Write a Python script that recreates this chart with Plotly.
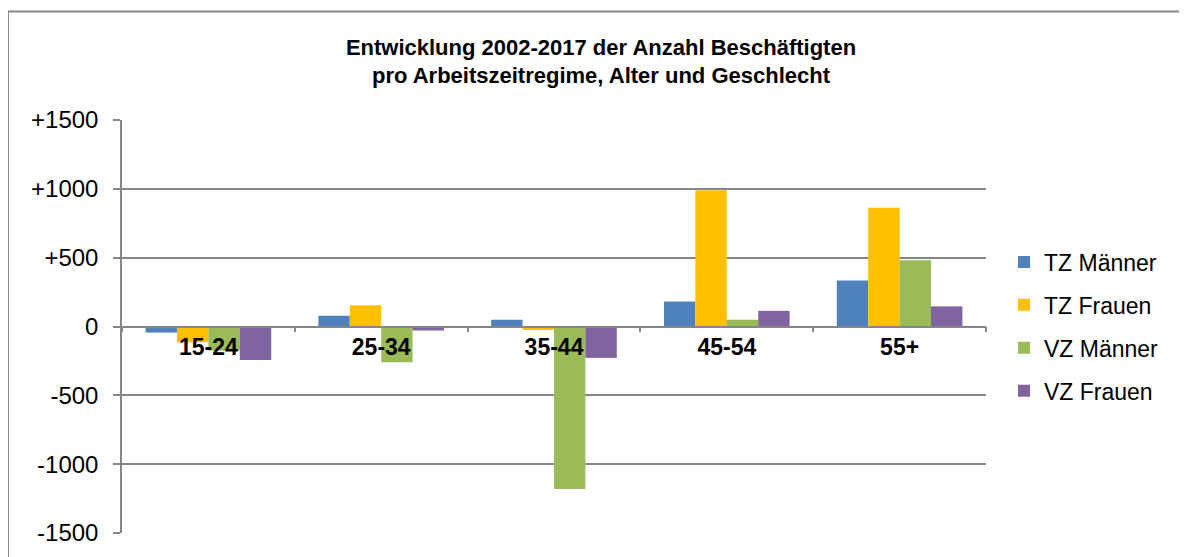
import plotly.graph_objects as go

categories = ["15-24", "25-34", "35-44", "45-54", "55+"]
tz_maenner = [-44, 78, 49, 182, 335]
tz_frauen = [-114, 155, -25, 990, 862]
vz_maenner = [-175, -260, -1180, 49, 481]
vz_frauen = [-243, -29, -228, 114, 146]

series_names = ["TZ Männer", "TZ Frauen", "VZ Männer", "VZ Frauen"]
series_values = [tz_maenner, tz_frauen, vz_maenner, vz_frauen]
colors = ["#4F81BD", "#FFC000", "#9BBB59", "#8064A2"]

y_tickvals = [-1500, -1000, -500, 0, 500, 1000, 1500]
y_ticktext = ["-1500", "-1000", "-500", "0", "+500", "+1000", "+1500"]

fig = go.Figure()
for i, (name, vals, col) in enumerate(zip(series_names, series_values, colors)):
    fig.add_trace(go.Bar(
        x=categories, y=vals, name=name,
        marker=dict(color=col, line=dict(width=0)),
        legendgroup=f"g{i}",
    ))

W, H = 1179, 549
L, R, T, B = 114, 201, 112, 24
PW, PH = W - L - R, H - T - B

grid_col = "#868686"
fig.update_layout(
    width=W, height=H,
    barmode="group", bargap=0.273, bargroupgap=0,
    plot_bgcolor="white", paper_bgcolor="white",
    margin=dict(l=L, r=R, t=T, b=B),
    font=dict(family="Liberation Sans, Arial", color="black"),
    title=dict(
        text="<b>Entwicklung 2002-2017 der Anzahl Beschäftigten<br>pro Arbeitszeitregime, Alter und Geschlecht</b>",
        x=593 / W, xanchor="center", y=1 - 46.5 / H, yanchor="middle",
        font=dict(size=22, family="Liberation Sans, Arial", color="black"),
    ),
    legend=dict(
        x=(996 - L) / PW, xanchor="left", y=0.5, yanchor="middle",
        font=dict(size=23, family="Liberation Sans, Arial", color="black"),
        traceorder="grouped", tracegroupgap=10,
        bgcolor="rgba(0,0,0,0)",
    ),
    showlegend=True,
    xaxis=dict(
        anchor="free", position=0.5,
        showline=True, linecolor=grid_col, linewidth=1.5,
        ticks="outside", tickson="boundaries", ticklen=5, tickcolor=grid_col, tickwidth=1.5,
        tickfont=dict(size=23, family="Liberation Sans, Arial", color="black", weight="bold"),
        showgrid=False, zeroline=False,
    ),
    yaxis=dict(
        range=[-1500, 1500], tickvals=y_tickvals, ticktext=y_ticktext,
        showline=True, linecolor=grid_col, linewidth=1.5,
        ticks="outside", ticklen=7, tickcolor=grid_col, tickwidth=1.5,
        ticklabelstandoff=10,
        tickfont=dict(size=24, family="Liberation Sans, Arial", color="black"),
        showgrid=True, gridcolor=grid_col, gridwidth=1.5,
        zeroline=True, zerolinecolor=grid_col, zerolinewidth=1.5,
    ),
    shapes=[dict(
        type="rect", xref="paper", yref="paper",
        x0=(0 - L) / PW, x1=1.4, y0=-0.2, y1=(PH + T - 3.5) / PH,
        line=dict(color=grid_col, width=2), fillcolor="rgba(0,0,0,0)", layer="below",
    )],
)

fig.write_html("out.html")
